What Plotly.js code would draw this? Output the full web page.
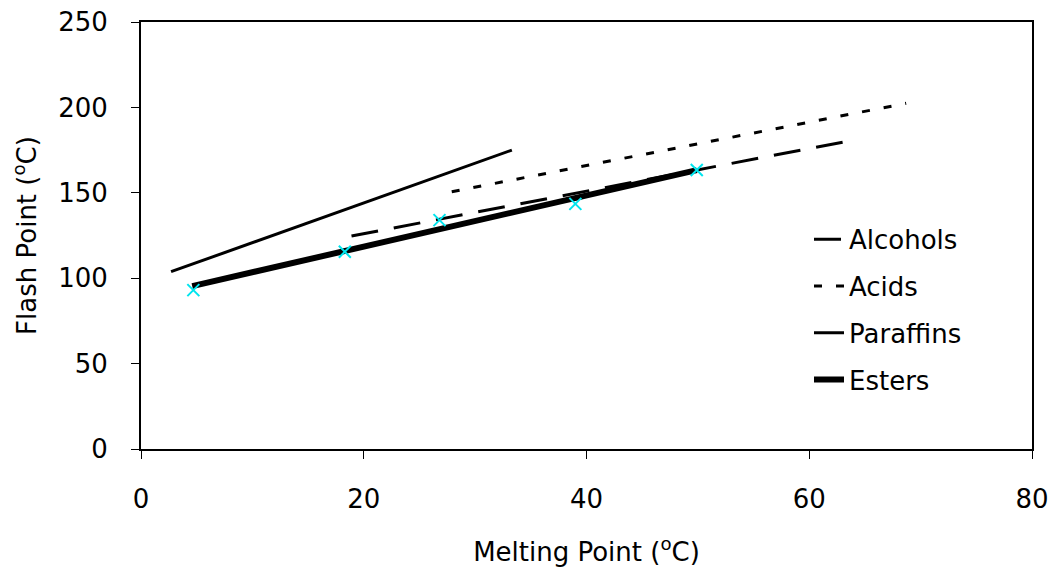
<!DOCTYPE html>
<html>
<head>
<meta charset="utf-8">
<script src="https://cdn.plot.ly/plotly-3.0.1.min.js"></script>
<style>html,body{margin:0;padding:0;background:#fff;}#chart{width:1055px;height:571px;}</style>
</head>
<body>
<div id="chart"></div>
<script>
// Melting point (°C) / Flash point (°C)
const alcoholsX = [18.9, 64.1];
const alcoholsY = [124.7, 181];
const acidsX = [27.9, 68.7];
const acidsY = [150.6, 202.4];
const paraffinsX = [2.7, 33.3];
const paraffinsY = [103.8, 175];
const estersX = [4.6, 49.9];
const estersY = [95.4, 163.3];
const esterDataX = [4.7, 18.3, 26.8, 39.0, 49.9];
const esterDataY = [93, 115.5, 134, 143.5, 163.3];

const FONT = 'Tahoma, "DejaVu Sans", Verdana, sans-serif';
const FS = 26;

const traces = [
  {x: alcoholsX, y: alcoholsY, name: 'Alcohols', mode: 'lines', legendgroup: 'a',
   line: {color: '#000', width: 3, dash: '27px,16px'}},
  {x: acidsX, y: acidsY, name: 'Acids', mode: 'lines', legendgroup: 'b',
   line: {color: '#000', width: 3, dash: '8px,14px'}},
  {x: paraffinsX, y: paraffinsY, name: 'Paraffins', mode: 'lines', legendgroup: 'c',
   line: {color: '#000', width: 3}},
  {x: estersX, y: estersY, name: 'Esters', mode: 'lines', legendgroup: 'd',
   line: {color: '#000', width: 6}},
  {x: esterDataX, y: esterDataY, name: 'Ester data', mode: 'markers', showlegend: false,
   marker: {symbol: 'x-thin-open', size: 12, color: '#00e5ee', line: {color: '#00e5ee', width: 2}}}
];

const layout = {
  width: 1055, height: 571,
  margin: {l: 141, r: 23, t: 22, b: 122},
  paper_bgcolor: '#fff', plot_bgcolor: '#fff',
  font: {family: FONT, size: FS, color: '#000'},
  showlegend: true,
  legend: {
    x: (809 - 141) / (1055 - 141 - 23), y: 0.326, yanchor: 'middle', xanchor: 'left',
    font: {family: FONT, size: FS, color: '#000'},
    bgcolor: 'rgba(0,0,0,0)', borderwidth: 0,
    traceorder: 'grouped', tracegroupgap: 10
  },
  xaxis: {
    range: [0, 80], dtick: 20, tick0: 0,
    showgrid: false, zeroline: false,
    showline: true, linecolor: '#000', linewidth: 2, mirror: true,
    ticks: 'outside', ticklen: 8, tickcolor: '#000', tickwidth: 1,
    ticklabelstandoff: 18,
    tickfont: {family: FONT, size: FS, color: '#000'},
    title: {text: 'Melting Point (<sup>o</sup>C)', font: {family: FONT, size: FS, color: '#000'}, standoff: 30}
  },
  yaxis: {
    range: [0, 250], dtick: 50, tick0: 0,
    showgrid: false, zeroline: false,
    showline: true, linecolor: '#000', linewidth: 2, mirror: true,
    ticks: 'outside', ticklen: 8, tickcolor: '#000', tickwidth: 1,
    ticklabelstandoff: 18,
    tickfont: {family: FONT, size: FS, color: '#000'},
    title: {text: 'Flash Point (<sup>o</sup>C)', font: {family: FONT, size: FS, color: '#000'}, standoff: 14}
  }
};

Plotly.newPlot('chart', traces, layout, {displayModeBar: false, staticPlot: true});
</script>
</body>
</html>
